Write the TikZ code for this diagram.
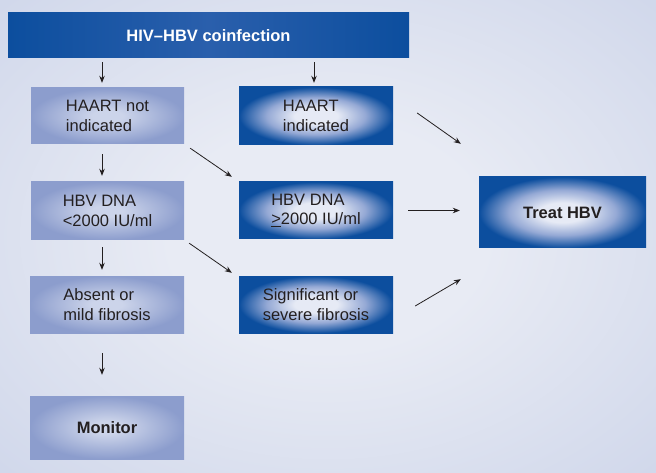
\documentclass[tikz,border=0pt]{standalone}
\usepackage{fontspec}
\setmainfont{Liberation Sans}
\usetikzlibrary{calc,arrows.meta}
\definecolor{bgouter}{HTML}{D1D8EB}
\definecolor{bginner}{HTML}{E8EBF4}
\definecolor{darkblue}{HTML}{0C4E9E}
\definecolor{glow}{HTML}{E6EAF5}
\definecolor{glowmid}{HTML}{95A9D5}
\definecolor{lightedge}{HTML}{8C9DCD}
\definecolor{lightcenter}{HTML}{CCD4EA}
\definecolor{bannermid}{HTML}{2A5FAC}
\definecolor{txt}{HTML}{231F20}
\pgfdeclareradialshading{darkglow}{\pgfpoint{0bp}{0bp}}{color(0bp)=(glow); color(7bp)=(glow); color(16bp)=(glowmid); color(25bp)=(darkblue); color(50bp)=(darkblue)}
\pgfdeclareradialshading{lightglow}{\pgfpoint{0bp}{0bp}}{color(0bp)=(lightcenter); color(5bp)=(lightcenter); color(25bp)=(lightedge); color(50bp)=(lightedge)}
\pgfdeclareradialshading{bgglow}{\pgfpoint{0bp}{0bp}}{color(0bp)=(bginner); color(12bp)=(bginner); color(35bp)=(bgouter); color(50bp)=(bgouter)}
\tikzset{
  basebox/.style={rectangle, inner sep=0pt, align=left, font=\fontsize{16.5}{19.5}\selectfont, text=txt},
  lbox/.style={basebox, shading=lightglow},
  dbox/.style={basebox, shading=darkglow},
  banner/.style={rectangle, inner sep=0pt, left color=darkblue, right color=darkblue, middle color=bannermid, text=white, font=\fontsize{16.5}{19.5}\selectfont\bfseries},
  arr/.style={-{Stealth[length=7pt,width=5.5pt]}, line width=0.8pt, draw=txt}
}
\begin{document}
\begin{tikzpicture}[x=1pt,y=-1pt]
\shade[shading=bgglow] (0,0) rectangle (656,473);
\useasboundingbox (0,0) rectangle (656,473);
\node[banner, minimum width=401pt, minimum height=45pt] (top) at (208.5,35.5) {HIV–HBV coinfection};
\node[lbox, minimum width=153pt, minimum height=56pt] (hnot) at (107.5,116) {HAART not\\indicated};
\node[lbox, minimum width=153pt, minimum height=58pt] (dnalo) at (107.5,211) {HBV DNA\\<2000 IU/ml};
\node[lbox, minimum width=154pt, minimum height=57pt] (absent) at (107,304.5) {Absent or\\mild fibrosis};
\node[lbox, minimum width=154pt, minimum height=63pt, font=\fontsize{16.5}{19.5}\selectfont\bfseries] (monitor) at (107,427.5) {Monitor};
\node[dbox, minimum width=154pt, minimum height=58pt] (hind) at (316,116) {HAART\\indicated};
\node[dbox, minimum width=154pt, minimum height=57pt] (dnahi) at (316,210.5) {HBV DNA\\\underline{>}2000 IU/ml};
\node[dbox, minimum width=154pt, minimum height=57pt] (sig) at (316,304.5) {Significant or\\severe fibrosis};
\node[dbox, minimum width=167pt, minimum height=71pt, font=\fontsize{16.5}{19.5}\selectfont\bfseries] (treat) at (562.5,212.5) {Treat HBV};

\draw[arr] ($(top.south -| hnot.north)+(-5.5,4)$) -- ($(hnot.north)+(-5.5,-5)$);
\draw[arr] ($(top.south -| hind.north)+(-2,4)$) -- ($(hind.north)+(-2,-4)$);
\draw[arr] ($(hnot.south)+(-5.5,10)$) -- ($(dnalo.north)+(-5.5,-6)$);
\draw[arr] ($(dnalo.south)+(-5.5,7)$) -- ($(absent.north)+(-5,-6)$);
\draw[arr] ($(absent.south)+(-5,20)$) -- ($(monitor.north)+(-5,-21)$);
\draw[arr] ($(hnot.south east)+(6,4)$) -- ($(dnahi.north west)+(-7,-5)$);
\draw[arr] ($(dnalo.south east)+(5,3)$) -- ($(sig.north west)+(-7,-3)$);
\draw[arr] ($(hind.east)+(24,-3)$) -- ($(treat.north west)+(-18,-33)$);
\draw[arr] ($(dnahi.east)+(15,0)$) -- ($(dnahi.east -| treat.west)+(-19,0)$);
\draw[arr] ($(sig.east)+(22,1.5)$) -- ($(treat.south west)+(-18,31)$);
\end{tikzpicture}
\end{document}
